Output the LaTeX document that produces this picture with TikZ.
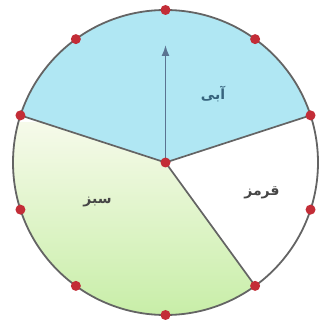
\documentclass[tikz,border=0pt]{standalone}
\usepackage{fontspec}
\newfontfamily\arabicfont[Script=Arabic]{DejaVu Sans}
\TeXXeTstate=1
\usetikzlibrary{arrows.meta}
\definecolor{bluefill}{RGB}{176,231,243}
\definecolor{greentop}{RGB}{246,250,234}
\definecolor{greenbot}{RGB}{200,238,168}
\definecolor{rimgray}{RGB}{100,100,100}
\definecolor{dotred}{RGB}{195,45,55}
\definecolor{arrowcol}{RGB}{90,115,145}
\definecolor{labblue}{RGB}{55,100,125}
\definecolor{labgray}{RGB}{70,70,70}
\tikzset{
  rim/.style={draw=rimgray, line width=1.8pt},
  divider/.style={draw=rimgray, line width=1.7pt},
  reddot/.style={circle, fill=dotred, inner sep=0pt, minimum size=10pt},
  lab/.style={font=\arabicfont\bfseries\fontsize{14}{17}\selectfont, inner sep=1pt},
}
\begin{document}
\begin{tikzpicture}[x=1pt,y=1pt]
\useasboundingbox (0,0) rectangle (329,333);
\begin{scope}[shift={(165.5,170.5)}]
\def\R{152.5}
% sectors
\fill[white] (0,0) circle (\R);
\fill[bluefill] (0,0) -- (18:\R) arc[start angle=18,end angle=162,radius=\R] -- cycle;
\begin{scope}
  \clip (0,0) -- (162:\R) arc[start angle=162,end angle=306,radius=\R] -- cycle;
  \shade[top color=greentop, bottom color=greenbot] (-\R,-\R) rectangle (\R,40);
\end{scope}
% points on rim
\foreach \k in {0,...,9} {
  \coordinate (p\k) at ({90-36*\k}:\R);
}
\coordinate (c) at (0,0);
\coordinate (tip) at (0,117.5);
% rim
\draw[rim] (0,0) circle (\R);
% dividers
\draw[divider] (c) -- (p2);
\draw[divider] (c) -- (p4);
\draw[divider] (c) -- (p8);
% arrow
\draw[arrowcol, line width=1.7pt, -{Latex[length=11pt,width=8pt]}] (c) -- (tip);
% dots
\foreach \k in {0,...,9} {
  \node[reddot] (d\k) at (p\k) {};
}
\node[reddot] (dc) at (c) {};
% labels
\node[lab, text=labblue] (lblue) at (47.5,68) {\beginR آبی\endR};
\node[lab, text=labgray] (lred) at (96.5,-30) {\beginR قرمز\endR};
\node[lab, text=labgray] (lgreen) at (-68,-40) {\beginR سبز\endR};
\end{scope}
\end{tikzpicture}
\end{document}
